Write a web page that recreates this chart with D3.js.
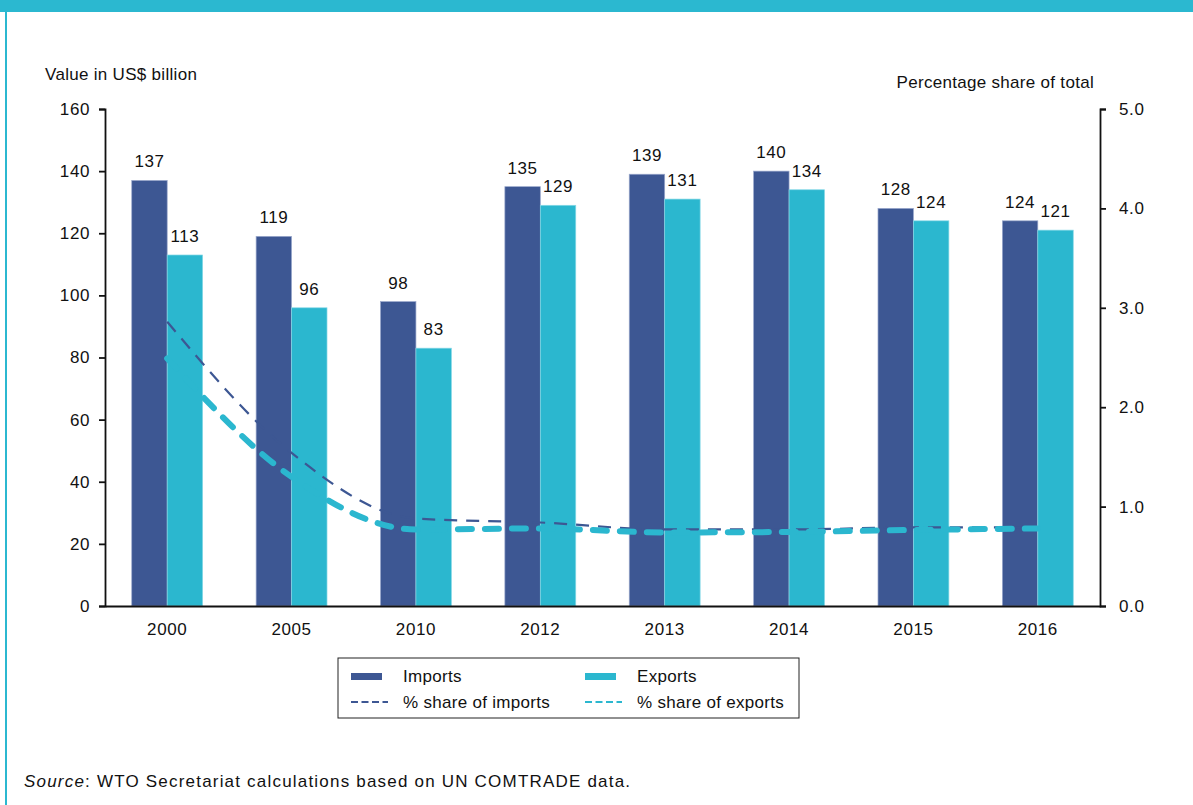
<!DOCTYPE html>
<html>
<head>
<meta charset="utf-8">
<script src="https://cdn.jsdelivr.net/npm/d3@7"></script>
<style>
body { margin:0; background:#fff; }
svg text { font-family: "Liberation Sans", Arial, sans-serif; fill:#111; }
</style>
</head>
<body>
<div id="divcont"></div>
<script>
var wd = 1193
var ht = 805

// data
var years = ["2000", "2005", "2010", "2012", "2013", "2014", "2015", "2016"]
var imports = [137, 119, 98, 135, 139, 140, 128, 124]
var exports_ = [113, 96, 83, 129, 131, 134, 124, 121]
var shareImports = [2.86, 1.54, 0.88, 0.84, 0.77, 0.77, 0.79, 0.79]
var shareExports = [2.49, 1.30, 0.77, 0.78, 0.74, 0.745, 0.765, 0.78]
var leftTicks = [0, 20, 40, 60, 80, 100, 120, 140, 160]
var rightTicks = [0, 1, 2, 3, 4, 5]

var impCol = "#3d5793"
var expCol = "#2bb7cf"
var frameCol = "#2bb8d0"

var padL = 105, padR = 1100, padT = 109, padB = 606

var svg = d3.select("#divcont")
  .append("svg")
  .attr("width", wd)
  .attr("height", ht)

// frame: teal band on top and rule on the left
svg.append("rect").attr("x", 0).attr("y", 0).attr("width", wd).attr("height", 12).attr("fill", frameCol)
svg.append("rect").attr("x", 5).attr("y", 12).attr("width", 2).attr("height", ht - 12).attr("fill", frameCol)

var x = d3.scaleBand().domain(years).range([padL, padR]).padding(0)
var bw = x.bandwidth() * 0.285
var y = d3.scaleLinear().domain([0, 160]).range([padB, padT])
var y2 = d3.scaleLinear().domain([0, 5]).range([padB, padT])

// bars
var g = svg.append("g")
g.selectAll(".imp").data(imports).enter().append("rect")
  .attr("x", function(d, i) { return x(years[i]) + x.bandwidth() / 2 - bw })
  .attr("y", function(d) { return y(d) })
  .attr("width", bw)
  .attr("height", function(d) { return padB - y(d) })
  .attr("fill", impCol)
  .attr("stroke", "#9aa8cc").attr("stroke-width", 0.7)

g.selectAll(".exp").data(exports_).enter().append("rect")
  .attr("x", function(d, i) { return x(years[i]) + x.bandwidth() / 2 })
  .attr("y", function(d) { return y(d) })
  .attr("width", bw)
  .attr("height", function(d) { return padB - y(d) })
  .attr("fill", expCol)
  .attr("stroke", "#86d8e6").attr("stroke-width", 0.7)

// value labels
g.selectAll(".impl").data(imports).enter().append("text")
  .attr("x", function(d, i) { return x(years[i]) + x.bandwidth() / 2 - bw / 2 })
  .attr("y", function(d) { return y(d) - 13 })
  .attr("text-anchor", "middle")
  .style("font-size", "17px").style("letter-spacing", "0.6px")
  .text(function(d) { return d })

g.selectAll(".expl").data(exports_).enter().append("text")
  .attr("x", function(d, i) { return x(years[i]) + x.bandwidth() / 2 + bw / 2 })
  .attr("y", function(d) { return y(d) - 13 })
  .attr("text-anchor", "middle")
  .style("font-size", "17px").style("letter-spacing", "0.6px")
  .text(function(d) { return d })

// share lines
var line = d3.line()
  .x(function(d, i) { return x(years[i]) + x.bandwidth() / 2 })
  .y(function(d) { return y2(d) })
  .curve(d3.curveMonotoneX)

svg.append("path").datum(shareImports)
  .attr("d", line)
  .attr("fill", "none")
  .attr("stroke", impCol)
  .attr("stroke-width", 2.2)
  .attr("stroke-dasharray", "13,9")

svg.append("path").datum(shareExports)
  .attr("d", line)
  .attr("fill", "none")
  .attr("stroke", expCol)
  .attr("stroke-width", 6)
  .attr("stroke-linecap", "round")
  .attr("stroke-dasharray", "14,13")

// axes
var yAxis = d3.axisLeft(y).tickValues(leftTicks).tickSize(6).tickPadding(9)
var yAx = svg.append("g").attr("transform", "translate(" + padL + ",0)").call(yAxis)
var y2Axis = d3.axisRight(y2).tickValues(rightTicks).tickSize(6).tickPadding(13)
  .tickFormat(d3.format(".1f"))
var y2Ax = svg.append("g").attr("transform", "translate(" + padR + ",0)").call(y2Axis)
var xAxis = d3.axisBottom(x).tickSize(0).tickPadding(17)
var xAx = svg.append("g").attr("transform", "translate(0," + padB + ")").call(xAxis)

svg.selectAll(".tick text").style("font-size", "17px").style("letter-spacing", "0.6px")
  .style("font-family", "Liberation Sans, Arial, sans-serif").attr("fill", "#111")
svg.selectAll(".domain, .tick line").attr("stroke", "#111").attr("stroke-width", 1.8)

// axis titles
svg.append("text").attr("x", 45).attr("y", 80).style("font-size", "17px").style("letter-spacing", "0.3px").text("Value in US$ billion")
svg.append("text").attr("x", 1094).attr("y", 88).attr("text-anchor", "end").style("font-size", "17px").style("letter-spacing", "0.3px").text("Percentage share of total")

// legend
var lg = svg.append("g")
lg.append("rect").attr("x", 338).attr("y", 658).attr("width", 461).attr("height", 60)
  .attr("fill", "none").attr("stroke", "#222").attr("stroke-width", 1)

var legItems = [
  { label: "Imports", col: impCol, kind: "bar", lx: 351, ly: 676 },
  { label: "Exports", col: expCol, kind: "bar", lx: 585, ly: 676 },
  { label: "% share of imports", col: impCol, kind: "line", lx: 351, ly: 702 },
  { label: "% share of exports", col: expCol, kind: "line", lx: 585, ly: 702 }
]
legItems.forEach(function(d) {
  if (d.kind == "bar") {
    lg.append("rect").attr("x", d.lx).attr("y", d.ly - 3).attr("width", 31).attr("height", 7).attr("fill", d.col)
  } else {
    lg.append("line").attr("x1", d.lx).attr("x2", d.lx + 37).attr("y1", d.ly).attr("y2", d.ly)
      .attr("stroke", d.col).attr("stroke-width", 2.2).attr("stroke-dasharray", "7,3.5")
  }
  lg.append("text").attr("x", d.lx + 52).attr("y", d.ly + 6).style("font-size", "17px").style("letter-spacing", "0.3px").text(d.label)
})

// source note
var src = svg.append("text").attr("x", 24).attr("y", 787).style("font-size", "17px").style("letter-spacing", "1.2px")
src.append("tspan").style("font-style", "italic").text("Source")
src.append("tspan").text(": WTO Secretariat calculations based on UN COMTRADE data.")
</script>
</body>
</html>
